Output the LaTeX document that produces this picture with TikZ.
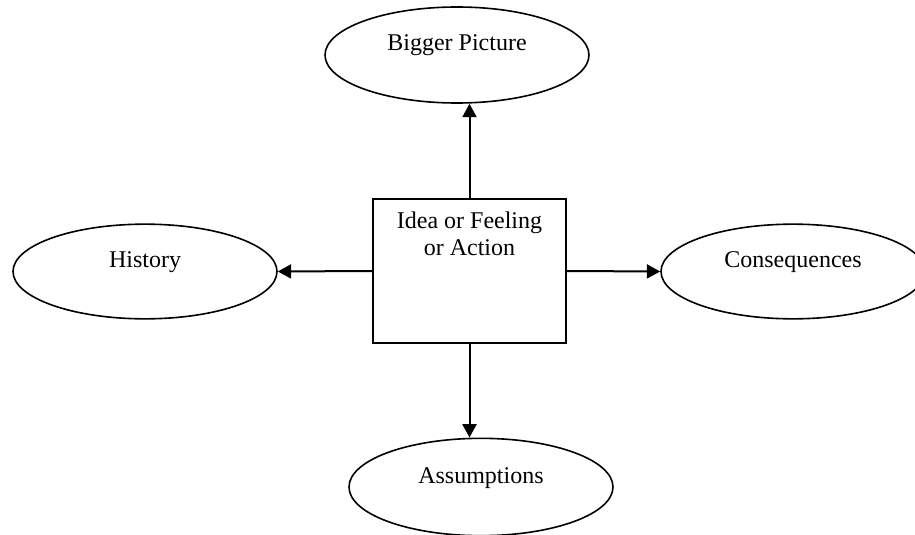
\documentclass[tikz,border=0pt]{standalone}
\usepackage{fontspec}
\setmainfont{Liberation Serif}
\usepackage{tikz}
\usetikzlibrary{shapes, arrows.meta, positioning}

\tikzset{
	oval/.style={draw, ellipse, line width=1.2pt, minimum width=198pt, minimum height=71pt, inner sep=0pt},
	ideabox/.style={draw, rectangle, line width=1.5pt, minimum width=145pt, minimum height=108pt},
	arr/.style={line width=1.5pt, -{Triangle[length=10pt, width=10.5pt]}},
	txt/.style={font=\fontsize{18pt}{20.25pt}\selectfont}
}

\begin{document}
\begin{tikzpicture}[x=0.75pt, y=-0.75pt, txt]
	\useasboundingbox (0,0) rectangle (915,535);
	% NOTE: coordinates are in pixels, y grows downwards.
	\node[ideabox, label={[anchor=north, yshift=-7pt, align=center]north:{Idea or Feeling\\or Action}}] (idea) at (469.5,271) {};
	\node[oval, minimum height=72pt, label={[yshift=7.5pt]center:Bigger Picture}] (big) at (457,55) {};
	\node[oval, label={[yshift=7pt]center:History}] (hist) at (145,271.5) {};
	\node[oval, label={[yshift=7pt]center:Consequences}] (cons) at (793,271.5) {};
	\node[oval, minimum height=73pt, label={[yshift=7pt]center:Assumptions}] (assum) at (481,487) {};

	\draw[arr] (idea.north) -- (idea.north |- big.south);
	\draw[arr] (idea.west) -- (hist.east);
	\draw[arr] (idea.east) -- (cons.west);
	\draw[arr] (idea.south) -- (idea.south |- assum.north);
\end{tikzpicture}
\end{document}
